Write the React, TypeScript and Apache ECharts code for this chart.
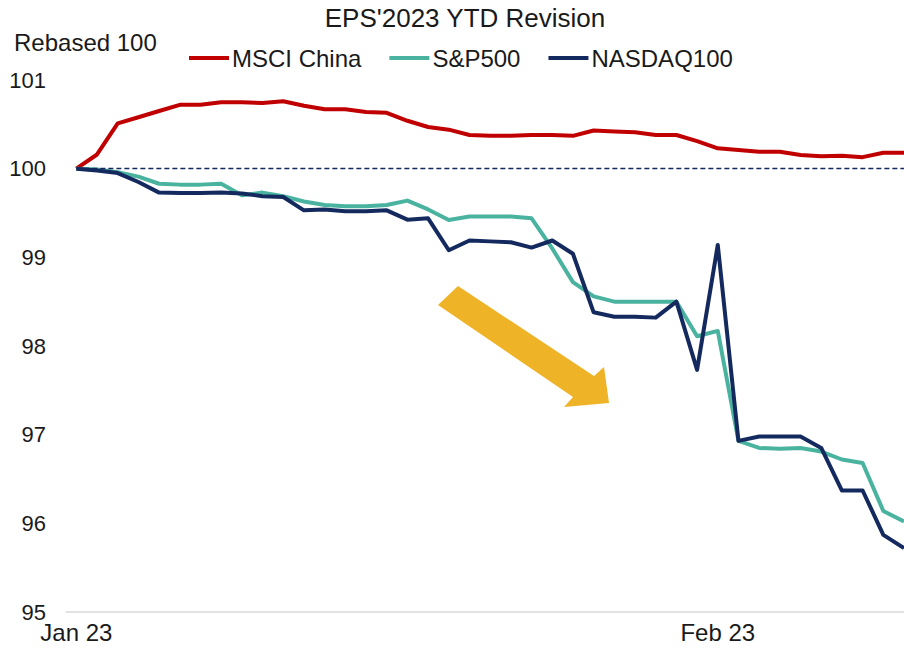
import React, { useEffect, useRef } from "react";
import * as echarts from "echarts";

const titleText = "EPS'2023 YTD Revision";
const yAxisTitle = "Rebased 100";
const seriesNames = ["MSCI China", "S&P500", "NASDAQ100"];
const seriesColors = ["#C00000", "#4AB39F", "#142A5E"];
const xTickIndex = [0, 31];
const xTickLabels = ["Jan 23", "Feb 23"];

const msciChina = [
  100.0, 100.16, 100.51, 100.58, 100.65, 100.72, 100.72, 100.75, 100.75, 100.74,
  100.76, 100.71, 100.67, 100.67, 100.64, 100.63, 100.54, 100.47, 100.44, 100.38,
  100.37, 100.37, 100.38, 100.38, 100.37, 100.43, 100.42, 100.41, 100.38, 100.38,
  100.31, 100.23, 100.21, 100.19, 100.19, 100.155, 100.14, 100.145, 100.13, 100.18,
  100.18,
];
const sp500 = [
  100.0, 99.99, 99.96, 99.91, 99.83, 99.82, 99.82, 99.83, 99.7, 99.73,
  99.69, 99.63, 99.59, 99.575, 99.575, 99.59, 99.64, 99.54, 99.42, 99.46,
  99.46, 99.46, 99.44, 99.1, 98.72, 98.56, 98.5, 98.5, 98.5, 98.5,
  98.11, 98.17, 96.93, 96.85, 96.84, 96.85, 96.81, 96.72, 96.68, 96.14,
  96.02,
];
const nasdaq100 = [
  100.0, 99.98, 99.95, 99.85, 99.73, 99.725, 99.725, 99.73, 99.72, 99.69,
  99.68, 99.53, 99.54, 99.52, 99.52, 99.53, 99.425, 99.44, 99.08, 99.19,
  99.18, 99.17, 99.11, 99.19, 99.04, 98.38, 98.33, 98.33, 98.32, 98.5,
  97.73, 99.14, 96.93, 96.98, 96.98, 96.98, 96.85, 96.37, 96.37, 95.87,
  95.72,
];
const baseline = 100;
const yMin = 95;
const yMax = 101;

const FONT = "'Liberation Sans', Arial, sans-serif";

export default function App() {
  const ref = useRef<HTMLDivElement>(null);
  useEffect(() => {
    if (!ref.current) return;
    const chart = echarts.init(ref.current, null, { renderer: "svg" });
    const all = [msciChina, sp500, nasdaq100];
    const lastIdx = msciChina.length - 1;
    const series: any[] = all.map((arr, k) => ({
      name: seriesNames[k],
      type: "line",
      data: arr.map((v, i) => [i, v]),
      symbol: "none",
      lineStyle: { color: seriesColors[k], width: 4, join: "round" },
      itemStyle: { color: seriesColors[k] },
      z: 3 + k,
    }));
    series[2].markLine = {
      silent: true,
      symbol: "none",
      label: { show: false },
      lineStyle: { color: "#142A5E", width: 1.3, type: [5, 3] },
      data: [[{ coord: [0, baseline] }, { coord: [lastIdx, baseline] }]],
    };
    chart.setOption({
      animation: false,
      textStyle: { fontFamily: FONT },
      title: [
        {
          text: titleText,
          left: 460,
          top: 0,
          textAlign: "center",
          textStyle: { fontSize: 26, fontWeight: "normal", color: "#1a1a1a", fontFamily: FONT },
        },
        {
          text: yAxisTitle,
          left: 9,
          top: 25,
          textStyle: { fontSize: 24, fontWeight: "normal", color: "#1a1a1a", fontFamily: FONT },
        },
      ],
      legend: {
        left: 184,
        top: 41,
        itemWidth: 40,
        itemHeight: 4,
        itemGap: 28,
        icon: "rect",
        textStyle: { fontSize: 24, color: "#1a1a1a", fontFamily: FONT, padding: [0, 0, 0, -2] },
        data: seriesNames,
      },
      grid: { left: 66, right: 0, top: 80, bottom: 36, containLabel: false },
      xAxis: {
        type: "value",
        min: -0.5,
        max: lastIdx,
        axisLine: { show: true, lineStyle: { color: "#D9D9D9", width: 1.5 } },
        axisTick: { show: false },
        splitLine: { show: false },
        axisLabel: {
          customValues: xTickIndex,
          formatter: (v: number) => {
            const idx = xTickIndex.indexOf(Math.round(v));
            return idx >= 0 ? xTickLabels[idx] : "";
          },
          fontSize: 24,
          color: "#1a1a1a",
          margin: 8,
          fontFamily: FONT,
        },
      },
      yAxis: {
        type: "value",
        min: yMin,
        max: yMax,
        interval: 1,
        axisLine: { show: false },
        axisTick: { show: false },
        splitLine: { show: false },
        axisLabel: { fontSize: 22, color: "#1a1a1a", margin: 20, fontFamily: FONT },
      },
      graphic: [
        {
          type: "polygon",
          shape: {
            points: [
              [458, 286],
              [594, 376],
              [604, 367],
              [609, 403],
              [564, 407],
              [573, 397],
              [438, 305],
            ],
          },
          style: { fill: "#EFB328" },
          z: 10,
        },
      ],
      series,
    });
    return () => chart.dispose();
  }, []);
  return <div ref={ref} style={{ width: 904, height: 648, position: "absolute", left: 0, top: 0 }} />;
}
